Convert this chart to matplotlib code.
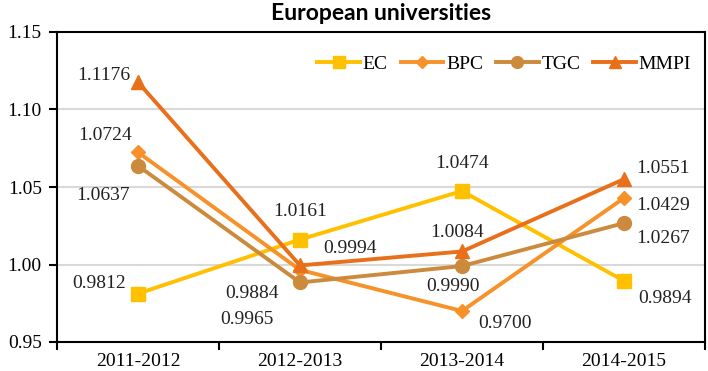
import matplotlib
matplotlib.use("Agg")
import matplotlib.pyplot as plt

categories = ["2011-2012", "2012-2013", "2013-2014", "2014-2015"]
ec = [0.9812, 1.0161, 1.0474, 0.9894]
bpc = [1.0724, 0.9965, 0.9700, 1.0429]
tgc = [1.0637, 0.9884, 0.9990, 1.0267]
mmpi = [1.1176, 0.9994, 1.0084, 1.0551]
series_names = ["EC", "BPC", "TGC", "MMPI"]
yticks = [0.95, 1.00, 1.05, 1.10, 1.15]

colors = ["#FFC000", "#F7922A", "#CC8A3C", "#E8701A"]
markers = ["s", "D", "o", "^"]
msizes = [10, 7.5, 10, 10]
# label offsets in pixels (dx, dy) per series per point
offsets = [
    [(-39, 10), (0, 28), (0, 28), (41, -18)],
    [(-33, 17), (-53, -50), (43, -13), (39, -7)],
    [(-35, -30), (-48, -11), (-9, -20), (39, -15)],
    [(-34, 7), (50, 17), (-5, 19), (39, 11)],
]

serif = ["Liberation Serif", "DejaVu Serif"]
fs = 14

fig = plt.figure(figsize=(7.08, 3.71), dpi=100)
ax = fig.add_axes([57 / 708, 1 - 342 / 371, (705 - 57) / 708, (342 - 32) / 371])

x = list(range(len(categories)))
all_series = [ec, bpc, tgc, mmpi]
for vals, name, c, m, ms, offs in zip(all_series, series_names, colors, markers, msizes, offsets):
    ax.plot(x, vals, color=c, lw=2.8, marker=m, markersize=ms, label=name, zorder=3)
    for xi, v, (dx, dy) in zip(x, vals, offs):
        ax.annotate(f"{v:.4f}", (xi, v), xytext=(dx, dy), textcoords="offset pixels",
                    ha="center", va="center", fontsize=fs, family=serif, color="#222222")

ax.set_xlim(-0.5, len(categories) - 0.5)
ax.set_ylim(0.95, 1.15)
ax.set_yticks(yticks)
ax.set_yticklabels([f"{t:.2f}" for t in yticks], family=serif, fontsize=fs)
ax.set_xticks(x)
ax.set_xticklabels(categories, family=serif, fontsize=fs)
ax.tick_params(axis="x", length=0, pad=8)
ax.set_xticks([i + 0.5 for i in range(-1, len(categories))], minor=True)
ax.tick_params(axis="x", which="minor", length=6, width=1.5, direction="out")
ax.tick_params(axis="y", length=6, width=1.5, direction="out", pad=5)

for g in [1.00, 1.05, 1.10]:
    ax.axhline(g, color="#D9D9D9", lw=1.5, zorder=1)
for s in ax.spines.values():
    s.set_color("black")
    s.set_linewidth(1.5)

leg = ax.legend(loc="upper right", ncol=4, frameon=False, handlelength=2.2,
                columnspacing=0.65, handletextpad=0.15, prop={"family": serif, "size": fs},
                markerscale=0.85, bbox_to_anchor=(1.0, 0.97), borderaxespad=0.3)

fig.text((57 + 705) / 2 / 708, 1 - 13 / 371, "European universities", ha="center", va="center",
         fontsize=16.5, fontweight="bold", family=["Lato", "DejaVu Sans"])

fig.savefig("out.png", dpi=100)
